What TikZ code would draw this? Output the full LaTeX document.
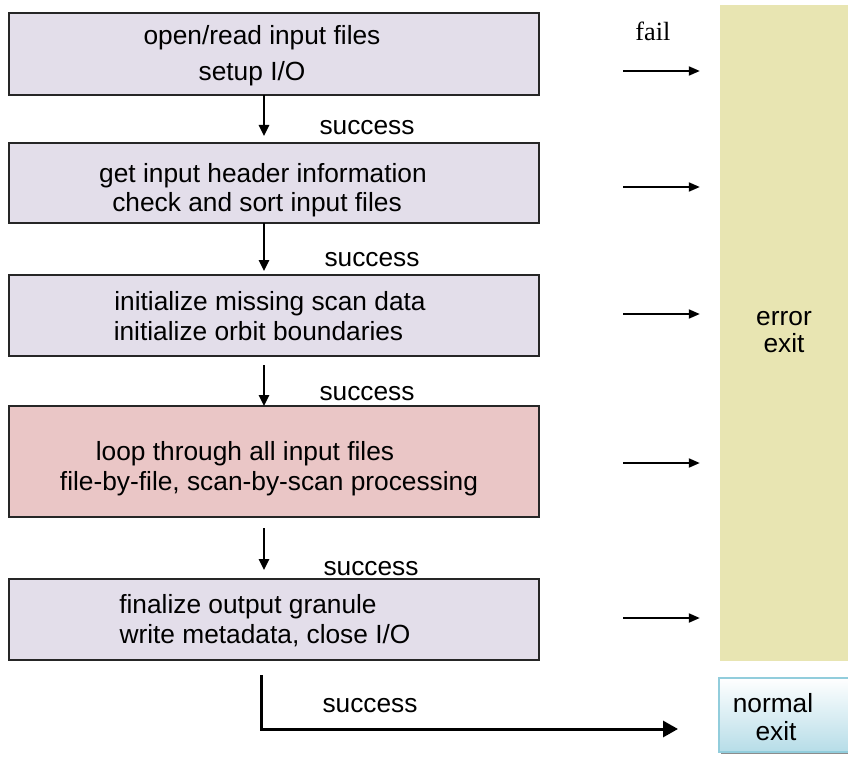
\documentclass[tikz,border=0pt]{standalone}
\usepackage{fontspec}
\setmainfont{Liberation Sans}
\newfontfamily\serifont{Liberation Serif}
\usetikzlibrary{arrows.meta,shadows}
\definecolor{boxfill}{RGB}{227,222,234}
\definecolor{loopfill}{RGB}{234,198,198}
\definecolor{errfill}{RGB}{232,229,178}
\definecolor{nbord}{RGB}{146,205,220}
\definecolor{nbot}{RGB}{183,221,232}
\tikzset{
  stepbox/.style={draw=black!85, line width=1.3pt, fill=boxfill, inner sep=0pt, outer sep=0pt, minimum width=530pt},
  lbl/.style={anchor=base, inner sep=0pt, font=\fontsize{26.3}{30}\selectfont},
  downarr/.style={line width=2.5pt, -{Triangle[length=11pt,width=10pt]}},
  failarr/.style={line width=2pt, -{Triangle[length=11pt,width=9pt]}},
  endarr/.style={line width=3pt, -{Triangle[length=15pt,width=16pt]}},
}
\begin{document}
\begin{tikzpicture}[x=1pt,y=-1pt]
\useasboundingbox (0,0) rectangle (848,757);
\clip (0,0) rectangle (848,757);
% boxes
\node[stepbox, minimum height=82pt] (b1) at (274,54) {};
\node[stepbox, minimum height=80pt] (b2) at (274,183) {};
\node[stepbox, minimum height=81pt] (b3) at (274,315.5) {};
\node[stepbox, minimum height=111pt, fill=loopfill] (b4) at (274,461.5) {};
\node[stepbox, minimum height=81pt] (b5) at (274,619.5) {};
\node[fill=errfill, inner sep=0pt, minimum width=128pt, minimum height=656pt] (err) at (784,333) {};
\node[draw=nbord, line width=2pt, top color=white, bottom color=nbot, inner sep=0pt,
      minimum width=200pt, minimum height=74pt,
      drop shadow={shadow xshift=2pt, shadow yshift=-2.5pt, fill=black!45, opacity=1}] (ne) at (819,714.5) {};
% texts
\node[lbl] (t1a) at (262,45) {open/read input files};
\node[lbl] (t1b) at (252,81) {setup I/O};
\node[lbl] (t2a) at (263,182) {get input header information};
\node[lbl] (t2b) at (257,211) {check and sort input files};
\node[lbl] (t3a) at (270,310) {initialize missing scan data};
\node[lbl] (t3b) at (258.5,340) {initialize orbit boundaries};
\node[lbl] (t4a) at (245,460) {loop through all input files};
\node[lbl] (t4b) at (269,490) {file-by-file, scan-by-scan processing};
\node[lbl] (t5a) at (248,613) {finalize output granule};
\node[lbl] (t5b) at (265,643) {write metadata, close I/O};
\node[lbl] (s1) at (367,135) {success};
\node[lbl] (s2) at (372,266) {success};
\node[lbl] (s3) at (367,400) {success};
\node[lbl] (s4) at (371,575) {success};
\node[lbl] (s5) at (370,712) {success};
\node[lbl] (e1) at (784,325) {error};
\node[lbl] (e2) at (784,352) {exit};
\node[lbl] (n1) at (773,712) {normal};
\node[lbl] (n2) at (776,740) {exit};
\node[lbl, font=\serifont\fontsize{26.3}{30}\selectfont] (fail) at (653,41) {fail};
% down arrows
\coordinate (ax) at (264,0);
\draw[downarr, shorten >=7pt] (b1.south -| ax) -- (b2.north -| ax);
\draw[downarr, shorten >=4pt] (b2.south -| ax) -- (b3.north -| ax);
\draw[downarr, shorten <=9pt] (b3.south -| ax) -- (b4.north -| ax);
\draw[downarr, shorten <=11pt, shorten >=9pt] (b4.south -| ax) -- (b5.north -| ax);
% fail arrows
\coordinate (f1) at (623,71);
\coordinate (f2) at (623,187);
\coordinate (f3) at (623,314);
\coordinate (f4) at (623,463);
\coordinate (f5) at (623,618);
\foreach \f in {f1,f2,f3,f4,f5}
  \draw[failarr, shorten >=20pt] (\f) -- (\f -| err.west);
% final arrow
\coordinate (bx) at (261,0);
\coordinate (nend) at (678,729);
\draw[endarr, shorten <=15pt] (b5.south -| bx) |- (nend);
\end{tikzpicture}
\end{document}
